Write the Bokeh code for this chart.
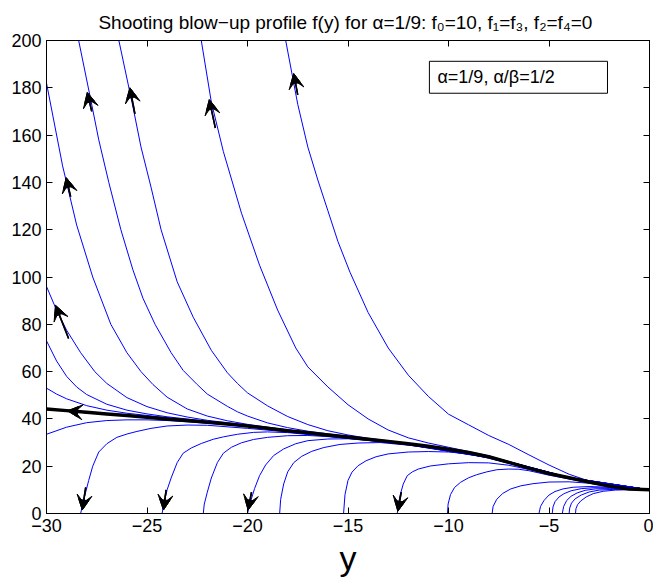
from bokeh.plotting import figure
from bokeh.models import (Range1d, FixedTicker, LinearAxis, Arrow, VeeHead, NormalHead, ColumnDataSource,
                          BoxAnnotation, Label)
from bokeh.embed import file_html
from bokeh.resources import INLINE

# ---------------- data ----------------
x_ticks = [-30, -25, -20, -15, -10, -5, 0]
x_tick_labels = ["\u221230", "\u221225", "\u221220", "\u221215", "\u221210", "\u22125", "0"]
y_ticks = [0, 20, 40, 60, 80, 100, 120, 140, 160, 180, 200]

# separatrix (thick black)
s_x = [0, -1, -2, -3, -4, -5, -6, -7, -8, -9, -10, -11, -12, -13, -14, -15, -16, -17, -18, -19, -20,
       -21, -22, -23, -24, -25, -26, -27, -28, -29, -30]
s_y = [10, 10.4, 11.6, 13.3, 15.1, 16.9, 19.2, 21.6, 24.0, 25.8, 27.2, 28.4, 29.5, 30.5, 31.4, 32.3, 33.2,
       34.1, 35.0, 36.0, 37.0, 37.8, 38.6, 39.3, 40.0, 40.7, 41.4, 42.1, 42.8, 43.5, 44.2]

# upward (blow-up) trajectories
u1_x = [0, -1, -2, -3, -4, -5, -6, -7, -8, -9, -10, -11, -12, -13, -14, -14.9, -15.5, -16, -16.5, -17, -17.5, -18.1]
u1_y = [10, 10.5, 11.8, 13.7, 16.6, 20.5, 24.8, 29.2, 33, 37.5, 42, 49.5, 58.5, 70, 85, 102, 115, 128, 141, 155, 173, 200]
u2_x = [0, -2, -4, -6, -8, -10, -11, -12, -13, -14, -15, -16, -17, -17.6, -18.5, -19.4, -20.3, -21.2, -21.8, -22.3]
u2_y = [10, 11.7, 15.3, 19.5, 24.4, 28, 29.8, 32, 35.3, 40, 46, 53.5, 62, 70, 86, 105, 127, 153, 174, 200]
u3_x = [0, -4, -8, -12, -14, -15, -16, -17, -18, -19, -20, -20.5, -21, -21.8, -22.7, -23.5, -24.3, -24.8, -25.3, -25.7, -26.4]
u3_y = [10, 15.2, 24.2, 29.7, 31.8, 33.2, 35.0, 37.6, 41, 45.5, 51, 55, 59.5, 69, 83, 98, 120, 138, 155, 172, 200]
u4_x = [0, -4, -8, -12, -15, -17, -18, -19, -20, -20.5, -21, -22, -22.5, -23.2, -23.8, -24.6, -25.2, -25.7, -26.3,
        -26.9, -27.4, -27.8, -28.4]
u4_y = [10, 15.2, 24.1, 29.6, 32.6, 34.8, 36.3, 38.3, 41.2, 43, 45.3, 50.5, 54.5, 60.5, 68, 80, 91, 103, 120,
        140, 158, 175, 200]
u5_x = [0, -4, -8, -12, -16, -18, -20, -21, -22, -23, -24, -24.7, -25.3, -26, -26.8, -27.7, -28.5, -29.2, -30]
u5_y = [10, 15.2, 24.1, 29.6, 33.4, 35.3, 37.7, 39.2, 41.2, 44.2, 49.2, 54.5, 60, 68, 80, 100, 122, 147, 182]
u6_x = [0, -4, -8, -12, -16, -20, -22, -23, -24, -25, -26, -27, -27.6, -28.3, -29, -29.5, -30]
u6_y = [10, 15.1, 24.1, 29.6, 33.3, 37.4, 39.4, 40.8, 42.6, 45.2, 49, 55, 60, 68, 77.5, 86, 96]
u7_x = [0, -4, -8, -12, -16, -20, -22, -24, -25, -26, -27, -28, -28.5, -29, -29.5, -30]
u7_y = [10, 15.1, 24.1, 29.6, 33.3, 37.2, 39.0, 40.9, 42.1, 43.7, 46.2, 50.3, 53.5, 58, 64.5, 73]
u8_x = [0, -4, -8, -12, -16, -20, -22, -24, -26, -27, -28, -29, -29.5, -30]
u8_y = [10, 15.1, 24.1, 29.6, 33.3, 37.1, 38.8, 40.5, 42.4, 43.7, 45.6, 48.5, 50.5, 53]

# downward trajectories
l0_x = [0, -4, -8, -12, -16, -20, -22, -24, -25, -26, -27, -28, -29, -30]
l0_y = [10, 14.9, 23.8, 29.3, 33.0, 36.8, 38.2, 39.3, 39.6, 39.6, 39.3, 38.4, 36.5, 33.5]
l1_x = [0, -4, -8, -12, -16, -18, -20, -22, -23, -24, -24.8, -25.5, -26, -26.5, -27, -27.4, -27.7, -27.9, -28.05, -28.2, -28.3]
l1_y = [10, 14.9, 23.7, 29.2, 32.8, 34.5, 36.0, 37.3, 37.4, 37.0, 36.0, 34.7, 33.6, 32.2, 29.5, 26, 20, 14, 9, 4, 0]
l2_x = [0, -4, -8, -12, -16, -18, -19, -19.7, -20.5, -21.2, -21.7, -22.3, -22.8, -23.2, -23.5, -23.8, -24.0, -24.15, -24.25]
l2_y = [10, 14.9, 23.7, 29.2, 32.6, 34.2, 34.5, 34.3, 33.5, 32.4, 31.4, 29.6, 27.7, 25.5, 21.5, 15, 10, 4.5, 0]
l3_x = [0, -4, -8, -12, -14, -16, -17, -18, -19, -19.7, -20.3, -20.8, -21.2, -21.5, -21.8, -22.0, -22.15, -22.2]
l3_y = [10, 14.8, 23.6, 29.1, 31.1, 32.5, 33.0, 32.9, 32.2, 31.3, 29.9, 28.0, 25.5, 21.5, 15, 9, 4, 0]
l4_x = [0, -4, -8, -12, -14, -15, -16, -17, -17.6, -18.2, -18.7, -19.1, -19.4, -19.65, -19.85, -20.0]
l4_y = [10, 14.8, 23.6, 29.0, 30.9, 31.6, 31.5, 30.8, 29.5, 27.3, 24.5, 20.5, 16, 10.5, 5, 0]
l5_x = [0, -4, -8, -10, -12, -13.4, -14.5, -15.4, -16.2, -16.8, -17.3, -17.7, -18.0, -18.2, -18.35, -18.4]
l5_y = [10, 14.8, 23.5, 26.8, 28.9, 30.0, 29.8, 29.2, 27.9, 26.3, 24.2, 21.5, 17.6, 12.5, 6, 0]
l6_x = [0, -4, -8, -9, -10, -11, -12, -13, -13.6, -14.1, -14.5, -14.8, -15.0, -15.15, -15.22]
l6_y = [10, 14.7, 23.4, 25.2, 26.0, 26.2, 26.0, 25.2, 24.0, 22.3, 20.2, 17.5, 14, 8, 0]
l7_x = [0, -3, -5, -6, -7, -8, -9, -10, -10.9, -11.5, -11.8, -12.05, -12.25, -12.4, -12.5, -12.55]
l7_y = [10, 13.1, 16.6, 18.6, 20.4, 21.4, 21.5, 21.0, 20.1, 18.8, 17.6, 16, 12.5, 8, 3.5, 0]
l8_x = [0, -3, -5, -6, -6.5, -7, -7.6, -8.1, -8.6, -9.0, -9.4, -9.7, -9.9, -10.02, -10.05]
l8_y = [10, 13.0, 16.2, 18.1, 18.7, 18.8, 18.5, 17.6, 16.4, 15.1, 13.2, 11, 8, 4, 0]
l9_x = [0, -1, -2, -3, -4, -5, -5.8, -6.4, -6.9, -7.3, -7.6, -7.78, -7.83]
l9_y = [10, 10.5, 11.4, 12.8, 13.4, 13.3, 12.6, 11.7, 10.4, 8.5, 6, 3, 0]
l10_x = [0, -1, -2, -3, -3.8, -4.3, -4.7, -5.0, -5.25, -5.42, -5.5]
l10_y = [10, 10.4, 11.1, 11.4, 11.1, 10.4, 9.3, 7.8, 5.5, 3, 0]
l11_x = [0, -1, -2, -2.8, -3.4, -3.9, -4.25, -4.5, -4.7, -4.8, -4.84]
l11_y = [10, 10.3, 10.8, 10.9, 10.5, 9.6, 8.4, 7, 5, 2.8, 0]
l12_x = [0, -1, -2, -2.7, -3.2, -3.6, -3.9, -4.12, -4.27, -4.34]
l12_y = [10, 10.2, 10.5, 10.4, 9.8, 8.7, 7.3, 5.5, 3, 0]
l13_x = [0, -1, -1.8, -2.5, -3.0, -3.4, -3.7, -3.88, -3.97, -4.0]
l13_y = [10, 10.1, 10.2, 9.9, 9.1, 7.8, 6.2, 4.4, 2.3, 0]
l14_x = [0, -1, -1.7, -2.3, -2.8, -3.15, -3.42, -3.58, -3.66, -3.68]
l14_y = [10, 10.05, 9.9, 9.4, 8.4, 7, 5.3, 3.7, 2, 0]

# direction arrows (start -> tip)
arrow_x0 = [-17.5, -21.6, -25.6, -27.75, -28.8, -28.9, -27.8, -28.05, -24.05, -19.8, -12.35]
arrow_y0 = [177, 163, 169, 170, 134, 74, 42.5, 11, 10, 9, 9]
arrow_x1 = [-17.7, -21.9, -25.85, -27.97, -29.02, -29.55, -28.95, -28.22, -24.18, -19.97, -12.52]
arrow_y1 = [186, 175, 180, 178, 142, 88, 43.4, 1.5, 1.5, 1.5, 1]

title_text = "Shooting  blow\u2212up profile f(y) for \u03b1=1/9: f\u2080=10, f\u2081=f\u2083, f\u2082=f\u2084=0"
legend_text = "\u03b1=1/9, \u03b1/\u03b2=1/2"
x_label = "y"

# ---------------- figure ----------------
FONT = "Liberation Sans"
p = figure(width=653, height=579, x_range=Range1d(-30, 0), y_range=Range1d(0, 200),
           output_backend="svg", toolbar_location=None,
           min_border_left=46, min_border_right=4, min_border_top=40, min_border_bottom=64)
p.background_fill_color = "white"
p.border_fill_color = "white"
p.outline_line_color = "black"
p.outline_line_width = 1
p.xgrid.visible = False
p.ygrid.visible = False

p.title.text = title_text
p.title.align = "center"
p.title.text_font = FONT
p.title.text_font_size = "19px"
p.title.text_font_style = "normal"
p.title.text_color = "black"
p.title.standoff = 16

for ax in (p.xaxis[0], p.yaxis[0]):
    ax.major_tick_in = 6
    ax.major_tick_out = 0
    ax.minor_tick_line_color = None
    ax.axis_line_color = "black"
    ax.major_tick_line_color = "black"
    ax.major_label_text_font = FONT
    ax.major_label_text_font_size = "18px"
    ax.major_label_text_color = "black"
    ax.major_label_standoff = 5

p.xaxis[0].ticker = FixedTicker(ticks=x_ticks)
p.xaxis[0].major_label_overrides = {t: s for t, s in zip(x_ticks, x_tick_labels)}
p.yaxis[0].ticker = FixedTicker(ticks=y_ticks)
p.xaxis[0].axis_label = x_label
p.xaxis[0].axis_label_text_font = FONT
p.xaxis[0].axis_label_text_font_size = "34px"
p.xaxis[0].axis_label_text_font_style = "normal"
p.xaxis[0].axis_label_text_color = "black"
p.xaxis[0].axis_label_standoff = 4

top_ax = LinearAxis(ticker=FixedTicker(ticks=x_ticks), major_tick_in=6, major_tick_out=0,
                    minor_tick_line_color=None, major_label_text_font_size="1px",
                    major_label_text_color=None, major_label_text_alpha=0,
                    major_label_standoff=0, axis_line_color="black")
right_ax = LinearAxis(ticker=FixedTicker(ticks=y_ticks), major_tick_in=6, major_tick_out=0,
                      minor_tick_line_color=None, major_label_text_font_size="1px",
                      major_label_text_color=None, major_label_text_alpha=0,
                      major_label_standoff=0, axis_line_color="black")
p.add_layout(top_ax, "above")
p.add_layout(right_ax, "right")

blue_curves = [(u1_x, u1_y), (u2_x, u2_y), (u3_x, u3_y), (u4_x, u4_y), (u5_x, u5_y), (u6_x, u6_y),
               (u7_x, u7_y), (u8_x, u8_y), (l0_x, l0_y), (l1_x, l1_y), (l2_x, l2_y), (l3_x, l3_y),
               (l4_x, l4_y), (l5_x, l5_y), (l6_x, l6_y), (l7_x, l7_y), (l8_x, l8_y), (l9_x, l9_y),
               (l10_x, l10_y), (l11_x, l11_y), (l12_x, l12_y), (l13_x, l13_y), (l14_x, l14_y)]
for cx, cy in blue_curves:
    p.line(cx, cy, line_color="#0000ff", line_width=1)

# separatrix drawn on top of the blue bundle
p.line(s_x, s_y, line_color="black", line_width=3.5)

# arrows: shaft + barbed head (a filled triangle inside a wider vee gives the notched look)
arrow_src = ColumnDataSource(dict(x0=arrow_x0, y0=arrow_y0, x1=arrow_x1, y1=arrow_y1))
p.add_layout(Arrow(x_start="x0", y_start="y0", x_end="x1", y_end="y1", source=arrow_src,
                   line_color="black", line_width=1.5,
                   end=VeeHead(size=15, fill_color="black", line_color="black", line_width=1)))
p.add_layout(Arrow(x_start="x0", y_start="y0", x_end="x1", y_end="y1", source=arrow_src,
                   line_color="black", line_width=1.5,
                   end=NormalHead(size=10, fill_color="black", line_color="black", line_width=1)))

# legend-like box
p.add_layout(BoxAnnotation(left=-10.95, right=-2.09, bottom=177.7, top=191.2,
                           fill_color="white", fill_alpha=1, line_color="black", line_alpha=1,
                           line_width=1))
p.add_layout(Label(x=-10.55, y=184.6, text=legend_text, text_font=FONT, text_font_size="18px",
                   text_baseline="middle", text_color="black"))

open("out.html", "w").write(file_html(p, INLINE))
